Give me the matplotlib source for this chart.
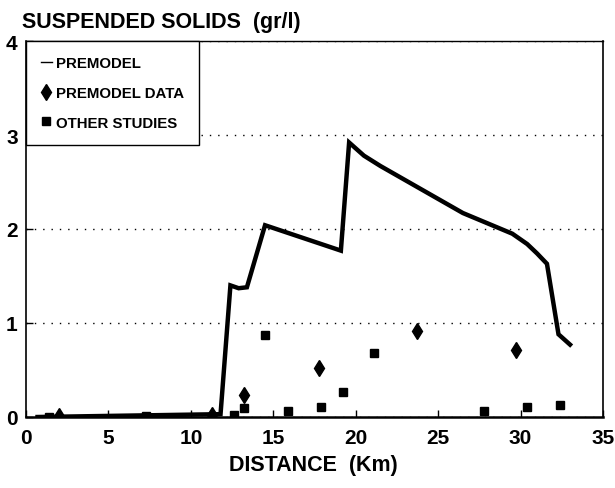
import matplotlib
matplotlib.use("Agg")
import matplotlib.pyplot as plt
from matplotlib.lines import Line2D

plt.rcParams['font.family'] = ['Liberation Sans', 'DejaVu Sans']
plt.rcParams['font.weight'] = 'bold'

# Premodel curve (km, gr/l)
model_km = [0.7, 11.8, 12.4, 12.9, 13.4, 14.5, 19.1, 19.6, 20.5, 21.5,
            24.1, 26.5, 29.5, 30.4, 31.0, 31.6, 32.3, 33.0]
model_ss = [0.0, 0.03, 1.40, 1.37, 1.38, 2.04, 1.77, 2.92, 2.78, 2.67,
            2.41, 2.17, 1.95, 1.84, 1.74, 1.63, 0.88, 0.77]

# Premodel data (diamonds)
data_km = [2.0, 11.3, 13.2, 17.8, 23.7, 29.7]
data_ss = [0.01, 0.02, 0.23, 0.52, 0.92, 0.71]

# Other studies (squares)
other_km = [1.4, 7.3, 12.6, 13.2, 14.5, 15.9, 17.9, 19.2, 21.1, 27.8, 30.4, 32.4]
other_ss = [0.0, 0.01, 0.02, 0.10, 0.87, 0.06, 0.11, 0.27, 0.68, 0.06, 0.11, 0.13]

x_ticks = [0, 5, 10, 15, 20, 25, 30, 35]
y_ticks = [0, 1, 2, 3, 4]

fig = plt.figure(figsize=(6.15, 4.89), dpi=100)
ax = fig.add_axes([26 / 615, 71 / 489, 577 / 615, 376 / 489])

ax.plot(model_km, model_ss, color='black', lw=3.2, solid_joinstyle='miter', zorder=3)
ax.plot(data_km, data_ss, linestyle='none', marker='d', markersize=8.5,
        color='black', zorder=4)
ax.plot(other_km, other_ss, linestyle='none', marker='s', markersize=5.5,
        color='black', zorder=4)

ax.set_xlim(0, 35)
ax.set_ylim(0, 4)
ax.set_xticks(x_ticks)
ax.set_yticks(y_ticks)
ax.tick_params(axis='x', direction='in', length=5, width=1, pad=8, labelsize=15)
ax.tick_params(axis='y', direction='in', length=5, width=1, pad=6, labelsize=15)

ax.yaxis.grid(True, color='black', linestyle=(0, (1, 5)), lw=1.0)
ax.set_axisbelow(True)

for side, w in [('left', 1.2), ('bottom', 1.8), ('top', 1.0), ('right', 1.2)]:
    ax.spines[side].set_linewidth(w)

handles = [
    Line2D([], [], color='black', lw=1),
    Line2D([], [], color='black', linestyle='none', marker='d', markersize=8),
    Line2D([], [], color='black', linestyle='none', marker='s', markersize=5.5),
]
labels = ['PREMODEL', 'PREMODEL DATA', 'OTHER STUDIES']
leg = ax.legend(handles, labels, loc='upper left', bbox_to_anchor=(0, 1),
                borderaxespad=0, fancybox=False, framealpha=1, edgecolor='black',
                prop={'size': 10.8, 'weight': 'bold'}, handlelength=0.7,
                handletextpad=0.3, labelspacing=1.05, borderpad=1.0)
leg.get_frame().set_linewidth(1.0)

fig.text(22 / 615, 1 - 28 / 489, 'SUSPENDED SOLIDS  (gr/l)', fontsize=15.5,
         fontweight='bold', ha='left', va='baseline')
fig.text(313 / 615, 1 - 471 / 489, 'DISTANCE  (Km)', fontsize=15.5,
         fontweight='bold', ha='center', va='baseline')

fig.savefig('out.png', dpi=100)
